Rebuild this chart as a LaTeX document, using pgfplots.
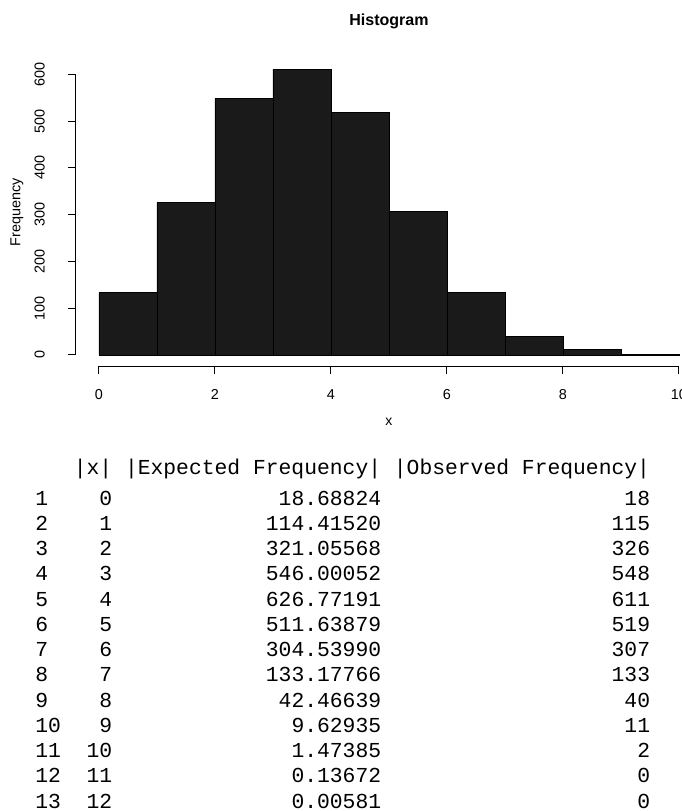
\documentclass[border=0pt]{standalone}
\usepackage{fontspec}
\setmainfont{Liberation Sans}
\newfontfamily\tablefont{Liberation Mono}
\usepackage{pgfplots}
\pgfplotsset{compat=1.18}
\definecolor{barfill}{RGB}{26,26,26}
\newlength\cw
\newcommand\trow[4]{\makebox[3\cw][l]{#1}\makebox[3\cw][r]{#2}\makebox[21\cw][r]{#3}\makebox[21\cw][r]{#4}}
\begin{document}
\begin{tikzpicture}[x=1pt,y=1pt]
\useasboundingbox (0,0) rectangle (341,405.5);
\clip (0,0) rectangle (341,405.5);
\begin{axis}[
  at={(37.9pt,222.3pt)}, anchor=south west,
  scale only axis, width=313.2pt, height=154.35pt,
  xmin=-0.4, xmax=10.4, ymin=-24.44, ymax=635.44,
  clip=false,
  axis x line*=bottom, axis y line*=left,
  axis line style={draw=none},
  xtick={0,2,4,6,8,10}, ytick={0,100,200,300,400,500,600},
  tick align=outside, major tick length=4pt,
  every tick/.style={black, line width=0.5pt},
  /pgf/number format/assume math mode=true,
  tick label style={font=\fontsize{7.2}{8}\selectfont, black},
  xticklabel shift=4pt,
  yticklabel style={rotate=90, anchor=south},
  yticklabel shift=8pt,
  title={Histogram},
  every axis title/.style={at={(axis description cs:0.5,1)}, anchor=center, yshift=18.35pt, font=\bfseries\fontsize{8}{9}\selectfont},
  xlabel={x},
  every axis x label/.style={at={(axis description cs:0.5,0)}, anchor=center, yshift=-27.8pt, font=\fontsize{7}{8}\selectfont},
  ylabel={Frequency},
  every axis y label/.style={at={(axis description cs:0,0.5)}, xshift=-29.4pt, rotate=90, anchor=center, font=\fontsize{7.2}{8}\selectfont},
]
\addplot[ybar interval, fill=barfill, draw=black, line width=0.4pt] coordinates {
  (0,133) (1,326) (2,548) (3,611) (4,519) (5,307) (6,133) (7,40) (8,11) (9,2) (10,2)
};
\draw[line width=0.5pt] (axis cs:0,-24.44) -- (axis cs:10,-24.44);
\draw[line width=0.5pt] (axis cs:-0.4,0) -- (axis cs:-0.4,600);
\end{axis}
\node[anchor=base west, inner sep=0pt, font=\tablefont\fontsize{10.67}{12.63}\selectfont] at (17.5,168) {%
\settowidth{\cw}{0}%
\begin{tabular}[t]{@{}l@{}}
\trow{}{|x|}{|Expected Frequency|}{|Observed Frequency|}\\[2.4pt]
\trow{1}{0}{18.68824}{18}\\
\trow{2}{1}{114.41520}{115}\\
\trow{3}{2}{321.05568}{326}\\
\trow{4}{3}{546.00052}{548}\\
\trow{5}{4}{626.77191}{611}\\
\trow{6}{5}{511.63879}{519}\\
\trow{7}{6}{304.53990}{307}\\
\trow{8}{7}{133.17766}{133}\\
\trow{9}{8}{42.46639}{40}\\
\trow{10}{9}{9.62935}{11}\\
\trow{11}{10}{1.47385}{2}\\
\trow{12}{11}{0.13672}{0}\\
\trow{13}{12}{0.00581}{0}
\end{tabular}};
\end{tikzpicture}
\end{document}
